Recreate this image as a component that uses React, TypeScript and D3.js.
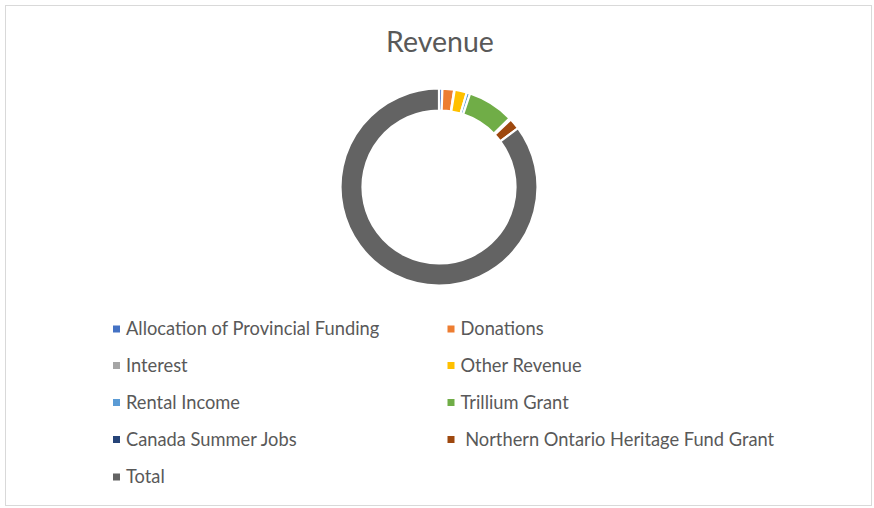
import React from "react";
import * as d3 from "d3";

const categories = [
  "Allocation of Provincial Funding",
  "Donations",
  "Interest",
  "Other Revenue",
  "Rental Income",
  "Trillium Grant",
  "Canada Summer Jobs",
  " Northern Ontario Heritage Fund Grant",
  "Total",
];
const values = [1500, 5200, 200, 5400, 1500, 20600, 700, 4900, 230000];
const colors = [
  "#4472C4",
  "#ED7D31",
  "#A5A5A5",
  "#FFC000",
  "#5B9BD5",
  "#70AD47",
  "#264478",
  "#9E480E",
  "#636363",
];
const title = "Revenue";

const W = 874;
const H = 508;
const FONT = "Lato, 'Open Sans', sans-serif";

export default function App() {
  const cx = 439;
  const cy = 187;
  const outer = 98.5;
  const inner = 76.5;
  const pie = d3.pie<number>().sort(null).value((d) => d);
  const arcs = pie(values);
  const arc = d3.arc<d3.PieArcDatum<number>>().innerRadius(inner).outerRadius(outer);

  const rowY = [329, 365.5, 402.5, 439.5, 477];
  const colX = [113, 447.5];

  return (
    <svg
      width={W}
      height={H}
      style={{ position: "absolute", left: 0, top: 0, background: "#fff" }}
    >
      <rect x={5.5} y={5.5} width={866} height={500} fill="#fff" stroke="#d9d9d9" strokeWidth={1} />
      <text
        x={440}
        y={52}
        textAnchor="middle"
        fontFamily={FONT}
        fontSize={28.5}
        fill="#595959"
      >
        {title}
      </text>
      <g transform={`translate(${cx},${cy})`}>
        {arcs.map((a, i) => (
          <path key={i} d={arc(a) || ""} fill={colors[i]} stroke="#fff" strokeWidth={2.2} />
        ))}
      </g>
      <g>
        {categories.map((c, i) => {
          const col = i % 2;
          const row = Math.floor(i / 2);
          const x = colX[col];
          const y = rowY[row];
          return (
            <g key={i}>
              <rect x={x} y={y - 3.5} width={7} height={7} fill={colors[i]} />
              <text
                x={x + 13}
                y={y}
                dy="0.35em"
                fontFamily={FONT}
                fontSize={18.3}
                fill="#595959"
                style={{ whiteSpace: "pre" }}
              >
                {c}
              </text>
            </g>
          );
        })}
      </g>
    </svg>
  );
}
